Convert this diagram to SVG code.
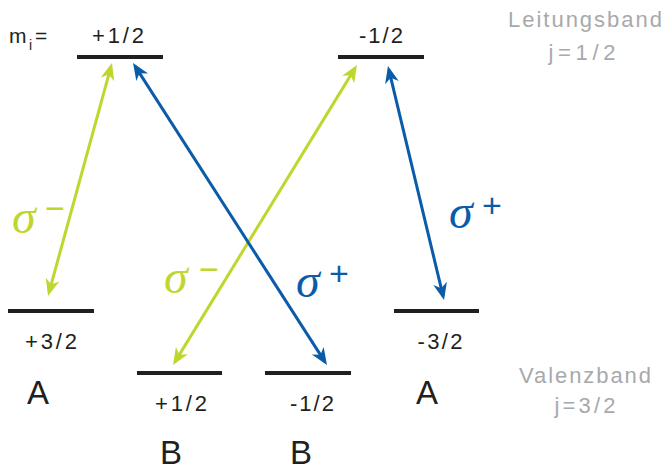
<svg xmlns="http://www.w3.org/2000/svg" width="664" height="470" viewBox="0 0 664 470">
<style>
.lvl{stroke:#231f20;stroke-width:4;fill:none}
.lab{font-family:"Liberation Sans",Arial,sans-serif;font-size:22px;fill:#231f20;text-anchor:middle}
.big{font-family:"Liberation Sans",Arial,sans-serif;font-size:33px;fill:#231f20;text-anchor:middle}
.gray{font-family:"Liberation Sans",Arial,sans-serif;font-size:22px;fill:#a7a9ac;text-anchor:middle}
.sig{font-family:"Liberation Serif","Times New Roman",serif;font-style:italic;font-size:48px}
.sup{font-family:"Liberation Sans",Arial,sans-serif;font-size:34px;text-anchor:middle}
.g{fill:#bfd62f}
.b{fill:#0a5ca8}
.ag{stroke:#bfd62f;stroke-width:3;fill:none;marker-start:url(#hg);marker-end:url(#hg)}
.ab{stroke:#0a5ca8;stroke-width:3;fill:none;marker-start:url(#hb);marker-end:url(#hb)}
</style>
<defs>
<marker id="hg" viewBox="-14 -8 20 16" markerWidth="20" markerHeight="16" refX="0" refY="0" orient="auto-start-reverse" markerUnits="userSpaceOnUse">
<path d="M4,0 L-13,-7 L-8,0 L-13,7 Z" fill="#bfd62f"/>
</marker>
<marker id="hb" viewBox="-14 -8 20 16" markerWidth="20" markerHeight="16" refX="0" refY="0" orient="auto-start-reverse" markerUnits="userSpaceOnUse">
<path d="M4,0 L-13,-7 L-8,0 L-13,7 Z" fill="#0a5ca8"/>
</marker>
</defs>
<rect width="664" height="470" fill="#fff"/>

<g id="mi-label">
<text x="9" y="43" font-family="Liberation Sans,Arial,sans-serif" font-size="21" fill="#231f20">m</text>
<text x="29" y="50" font-family="Liberation Sans,Arial,sans-serif" font-size="14" fill="#231f20">i</text>
<text x="35" y="43" font-family="Liberation Sans,Arial,sans-serif" font-size="21" fill="#231f20">=</text>
</g>

<g id="cb-plus-half">
<line class="lvl" x1="77" y1="57" x2="163" y2="57"/>
<text class="lab" x="118" y="43" textLength="52" lengthAdjust="spacing">+1/2</text>
</g>
<g id="cb-minus-half">
<line class="lvl" x1="338" y1="57" x2="424" y2="57"/>
<text class="lab" x="381" y="43" textLength="44" lengthAdjust="spacing">-1/2</text>
</g>
<g id="vb-plus-3half">
<line class="lvl" x1="8" y1="311" x2="94" y2="311"/>
<text class="lab" x="51" y="349" textLength="52" lengthAdjust="spacing">+3/2</text>
<text class="big" x="38" y="404">A</text>
</g>
<g id="vb-plus-half">
<line class="lvl" x1="137" y1="373" x2="222" y2="373"/>
<text class="lab" x="181" y="411" textLength="52" lengthAdjust="spacing">+1/2</text>
<text class="big" x="171" y="464">B</text>
</g>
<g id="vb-minus-half">
<line class="lvl" x1="265" y1="373" x2="351" y2="373"/>
<text class="lab" x="312" y="411" textLength="44" lengthAdjust="spacing">-1/2</text>
<text class="big" x="301" y="464">B</text>
</g>
<g id="vb-minus-3half">
<line class="lvl" x1="394" y1="311" x2="479" y2="311"/>
<text class="lab" x="440" y="349" textLength="45" lengthAdjust="spacing">-3/2</text>
<text class="big" x="427" y="404">A</text>
</g>

<g id="band-labels">
<text class="gray" x="585" y="27" textLength="154" lengthAdjust="spacing">Leitungsband</text>
<text class="gray" x="582" y="60" textLength="67" lengthAdjust="spacing">j=1/2</text>
<text class="gray" x="585" y="383" textLength="132" lengthAdjust="spacing">Valenzband</text>
<text class="gray" x="585" y="413" textLength="61" lengthAdjust="spacing">j=3/2</text>
</g>

<g id="connectors">
<line class="ag" x1="110.9" y1="66.9" x2="49.1" y2="292.1"/>
<line class="ag" x1="354.9" y1="68.4" x2="175.1" y2="361.6"/>
<line class="ab" x1="135.2" y1="66.4" x2="324.8" y2="361.6"/>
<line class="ab" x1="388.9" y1="69.9" x2="443.1" y2="296.1"/>
</g>

<g id="sigma-labels">
<text class="sig g" x="12" y="233">σ</text>
<text class="sup g" x="55" y="220">−</text>
<text class="sig g" x="164" y="293">σ</text>
<text class="sup g" x="209" y="281">−</text>
<text class="sig b" x="296" y="297">σ</text>
<text class="sup b" x="339" y="285">+</text>
<text class="sig b" x="449" y="228">σ</text>
<text class="sup b" x="492" y="217">+</text>
</g>
</svg>
